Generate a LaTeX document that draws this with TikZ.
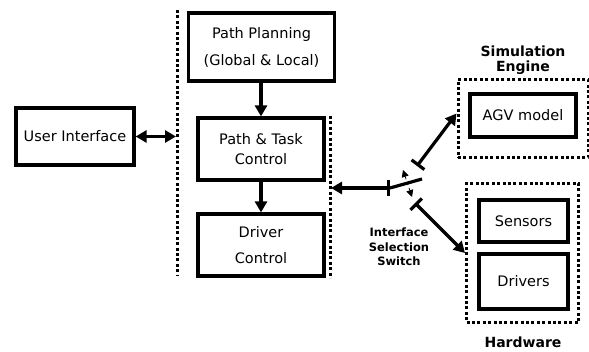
\documentclass[tikz,border=0pt]{standalone}
\usepackage{fontspec}
\setmainfont{DejaVu Sans}
\usetikzlibrary{arrows.meta,positioning,calc}

\begin{document}
\begin{tikzpicture}[
    x=1pt, y=-1pt,
    every node/.style={font=\fontsize{14.5}{17}\selectfont},
    % solid boxes and dotted groups
    block/.style={
        rectangle,
        draw,
        line width=3.2pt,
        align=center,
        inner sep=0pt
    },
    group/.style={
        rectangle,
        draw,
        line width=3pt,
        dash pattern=on 3pt off 2.4pt,
        inner sep=0pt
    },
    divider/.style={line width=3pt, dash pattern=on 3pt off 2.4pt},
    link/.style={line width=3.2pt, -{Triangle[length=11pt,width=12pt]}},
    portlink/.style={line width=3.2pt, {Bar[width=16pt]}-{Triangle[length=11pt,width=12pt]}},
    tag/.style={font=\fontsize{14}{14.5}\selectfont\bfseries, align=center}
]

\useasboundingbox (0,0) rectangle (589,352);

% Dotted dividers
\draw[divider] (177,10) -- (177,275);
\draw[divider] (330,116) -- (330,278);

% Control side
\node[block, minimum width=118pt, minimum height=57pt] (ui) at (75,136.5) {User Interface};
\node[block, minimum width=146pt, minimum height=68pt] (plan) at (261.5,47) {Path Planning\\[10pt](Global \& Local)};
\node[block, minimum width=126pt, minimum height=62pt] (task) at (261,149) {Path \& Task\\[3pt]Control};
\node[block, minimum width=126pt, minimum height=62pt] (drive) at (261,245) {Driver\\[9pt]Control};

% Simulation engine
\node[group, minimum width=130pt, minimum height=78pt] (simbox) at (523,118.5) {};
\node[block, minimum width=106pt, minimum height=43pt] (agv) at (523,115.5) {AGV model};
\node[tag] (simtag) at (523,60) {Simulation\\Engine};

% Hardware
\node[group, minimum width=112pt, minimum height=139pt] (hwbox) at (522.5,253) {};
\node[block, minimum width=89pt, minimum height=42pt] (sensors) at (523.5,221) {Sensors};
\node[block, minimum width=89pt, minimum height=55pt] (drivers) at (523.5,281.5) {Drivers};
\node[tag] (hwtag) at (523,342) {Hardware};

% Interface selection switch
\coordinate (uiport) at (176,136.5);
\coordinate (busport) at (331,188);
\coordinate (swpivot) at (390,188);
\coordinate (swtip) at (422,179);
\coordinate (simport) at (417,166);
\coordinate (hwport) at (415,203);
\node[tag, font=\fontsize{11.5}{14.5}\selectfont\bfseries] (swtag) at (399,247) {Interface\\Selection\\Switch};

% Connectors
\draw[link, {Triangle[length=11pt,width=12pt]}-{Triangle[length=11pt,width=12pt]}] (ui.east) -- (uiport);
\draw[link] (plan.south -| task.north) -- (task.north);
\draw[link] (task.south) -- (drive.north);
\draw[portlink] (swpivot) -- (busport);
\draw[line width=3.2pt] (swpivot) -- (swtip);
\draw[line width=0.8pt, dashed, {Triangle[length=7pt,width=7pt]}-{Triangle[length=7pt,width=7pt]}] (403,170) -- (412,197);
\draw[portlink] (simport) -- ($(simbox.west)+(0,-5)$);
\draw[portlink] (hwport) -- (hwbox.west);

\end{tikzpicture}
\end{document}
